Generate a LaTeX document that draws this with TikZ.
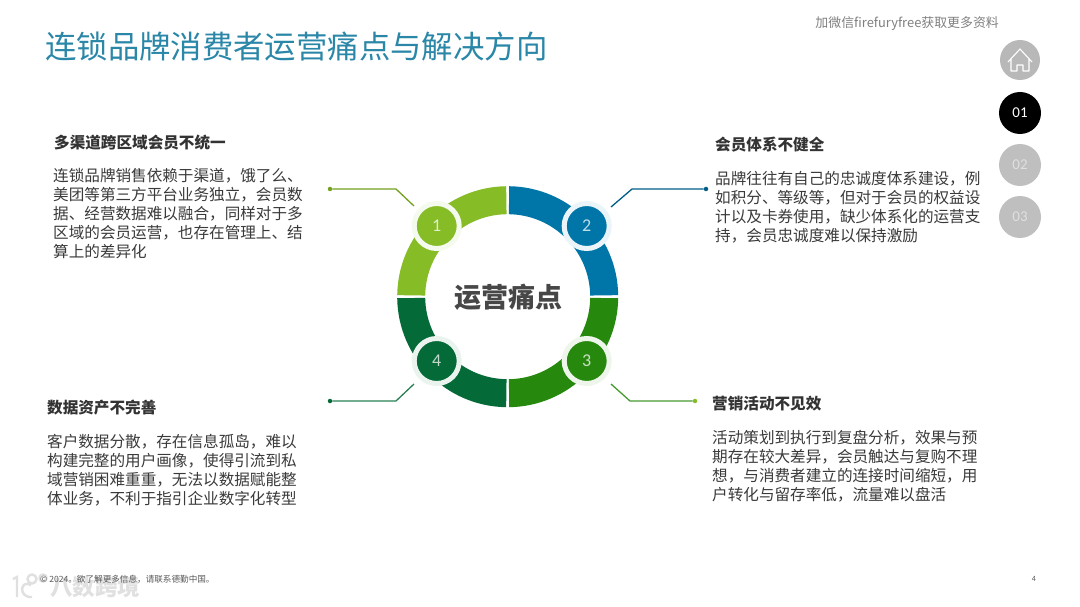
\documentclass[tikz,border=0pt]{standalone}
\usepackage{fontspec}
\setmainfont{Noto Sans CJK SC}
\newfontfamily\numfont{Carlito}
\definecolor{cLime}{HTML}{86BC25}
\definecolor{cBlue}{HTML}{0076A8}
\definecolor{cGreen}{HTML}{26890D}
\definecolor{cDark}{HTML}{046A38}
\definecolor{cTitle}{HTML}{2B87A8}
\definecolor{cBody}{HTML}{3A3A3A}
\newcommand{\ringseg}[3]{\fill[#1] (#2:82.5pt) -- (#2:110.5pt) arc[start angle=#2,end angle=#3,radius=110.5pt] -- (#3:82.5pt) arc[start angle=#3,end angle=#2,radius=82.5pt] -- cycle;}
\tikzset{
  x=1pt,y=-1pt,
  head/.style={anchor=west,inner sep=0pt,font=\fontsize{15.6}{19}\selectfont\bfseries,text=black!80},
  body/.style={anchor=west,inner sep=0pt,align=left,font=\fontsize{15.6}{19}\selectfont,text=cBody},
  badge/.style={circle,inner sep=0pt,minimum size=45pt,line width=5pt,draw=#1!8!white,fill=#1,text=#1!25!white,font=\numfont\fontsize{18}{18}\selectfont},
  nav/.style={circle,inner sep=0pt,minimum size=42pt,font=\numfont\fontsize{15}{15}\selectfont},
  link/.style={line width=1.3pt,draw=#1},
  dot/.style={circle,inner sep=0pt,minimum size=4.5pt,fill=#1},
}
\begin{document}
\begin{tikzpicture}
\useasboundingbox (0,0) rectangle (1080,607);
\fill[white] (0,0) rectangle (1080,607);
% title
\node[anchor=west,inner sep=0pt,text=cTitle,font=\fontsize{31.4}{34}\selectfont] (title) at (45,47) {连锁品牌消费者运营痛点与解决方向};
\node[anchor=east,inner sep=0pt,text=black!50,font=\fontsize{12.9}{14}\selectfont] (wx) at (999,24) {加微信firefuryfree获取更多资料};
% ring
\begin{scope}[shift={(507.7,296.7)},x=1pt,y=1pt]
  \ringseg{cBlue}{0.8}{89.2}
  \ringseg{cLime}{90.8}{179.2}
  \ringseg{cDark}{180.8}{269.2}
  \ringseg{cGreen}{270.8}{359.2}
\end{scope}
\node[inner sep=0pt,text=black!72,font=\fontsize{27}{30}\selectfont\bfseries] (center) at (508.5,297) {运营痛点};
\node[badge=cLime] (n1) at (436.7,226) {1};
\node[badge=cBlue] (n2) at (586.7,226) {2};
\node[badge=cGreen] (n3) at (586.7,361) {3};
\node[badge=cDark] (n4) at (436.7,361) {4};
% connectors
\node[dot=cLime!85!black] (d1) at (330,189) {};
\coordinate (b1) at (396,189);
\coordinate (e1) at (414,206);
\draw[link=cLime!85!black] (d1) -- (b1) -- (e1);
\node[dot=cBlue!80!black] (d2) at (706,189) {};
\coordinate (b2) at (632,189);
\coordinate (e2) at (611,207);
\draw[link=cBlue!80!black] (d2) -- (b2) -- (e2);
\node[dot=cLime] (d3) at (695,401) {};
\coordinate (b3) at (630,401);
\coordinate (e3) at (611,384);
\draw[link=cGreen!85!white] (d3) -- (b3) -- (e3);
\node[dot=cDark] (d4) at (330,401) {};
\coordinate (b4) at (396,401);
\coordinate (e4) at (414,384);
\draw[link=cDark!85!white] (d4) -- (b4) -- (e4);
% text blocks
\node[head] (h1) at (54,143) {多渠道跨区域会员不统一};
\node[body] (t1) at (53,214) {连锁品牌销售依赖于渠道，饿了么、\\美团等第三方平台业务独立，会员数\\据、经营数据难以融合，同样对于多\\区域的会员运营，也存在管理上、结\\算上的差异化};
\node[head] (h2) at (715,145) {会员体系不健全};
\node[body] (t2) at (715,207) {品牌往往有自己的忠诚度体系建设，例\\如积分、等级等，但对于会员的权益设\\计以及卡券使用，缺少体系化的运营支\\持，会员忠诚度难以保持激励};
\node[head] (h3) at (712,404) {营销活动不见效};
\node[body] (t3) at (712,466) {活动策划到执行到复盘分析，效果与预\\期存在较大差异，会员触达与复购不理\\想，与消费者建立的连接时间缩短，用\\户转化与留存率低，流量难以盘活};
\node[head] (h4) at (47,408) {数据资产不完善};
\node[body] (t4) at (47,470) {客户数据分散，存在信息孤岛，难以\\构建完整的用户画像，使得引流到私\\域营销困难重重，无法以数据赋能整\\体业务，不利于指引企业数字化转型};
% side nav
\node[nav,fill=black!28,minimum size=40pt] (home) at (1020,60) {};
\draw[white,line width=1.1pt,line join=round] (1008,62) -- (1020,49) -- (1032,62) (1011,59) -- (1011,71) -- (1017,71) -- (1017,65) -- (1023,65) -- (1023,71) -- (1029,71) -- (1029,59);
\node[nav,fill=black,text=white] (p1) at (1020,113) {01};
\node[nav,fill=black!25,text=black!12] (p2) at (1020,165) {02};
\node[nav,fill=black!25,text=black!12] (p3) at (1020,217) {03};
% watermark
\begin{scope}[draw=black!12,line width=2.4pt]
  \draw (13,579) -- (17,577) -- (17,597);
  \draw (31,585) .. controls (20,579) and (18,598) .. (32,597);
  \draw (32,579) circle[radius=4.5pt];
  \draw (43,578) circle[radius=3.5pt];
\end{scope}
\node[anchor=west,inner sep=0pt,text=black!12,font=\fontsize{22.5}{24}\selectfont\bfseries] (mark) at (50,587) {八数跨境};
% footer
\node[anchor=west,inner sep=0pt,text=black!65,font=\fontsize{8.6}{10}\selectfont] (foot) at (40,579) {© 2024。欲了解更多信息，请联系德勤中国。};
\node[inner sep=0pt,text=black!65,font=\numfont\fontsize{8}{9}\selectfont] (pg) at (1034,579) {4};
\end{tikzpicture}
\end{document}
